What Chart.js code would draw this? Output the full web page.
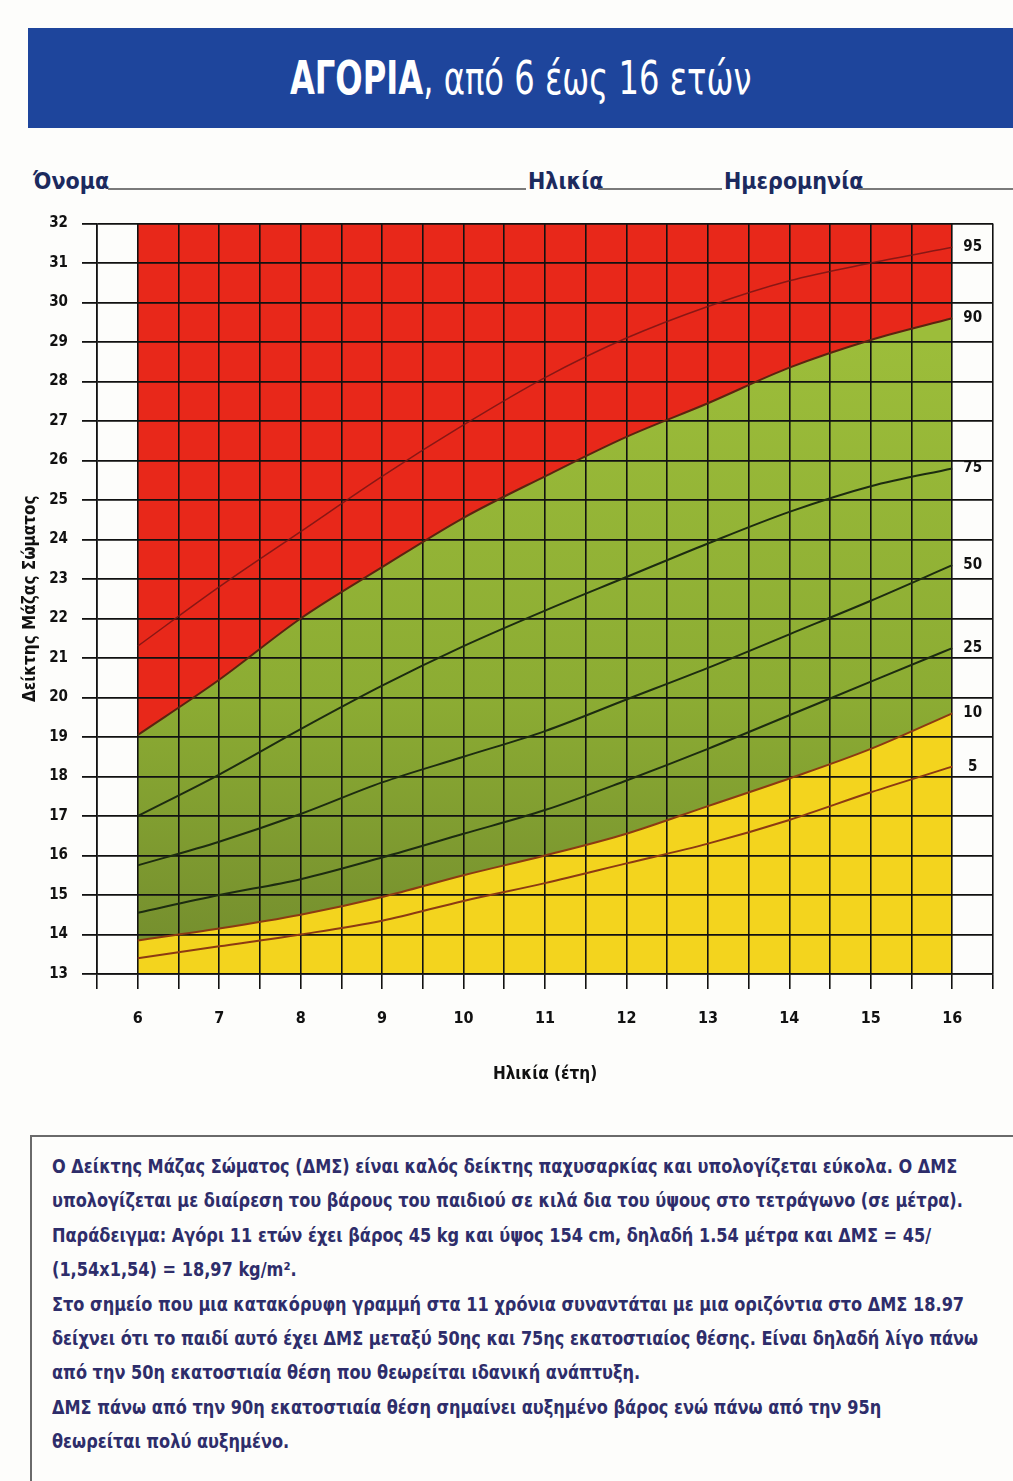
<!DOCTYPE html>
<html>
<head>
<meta charset="utf-8">
<script src="https://cdn.jsdelivr.net/npm/chart.js@4/dist/chart.umd.min.js"></script>
<style>
  html, body { margin: 0; padding: 0; background: #fdfdfb; }
  body { width: 1013px; height: 1481px; position: relative; overflow: hidden;
         font-family: "DejaVu Sans Condensed", "DejaVu Sans", sans-serif; }
  #banner { position: absolute; left: 28px; top: 28px; width: 985px; height: 100px;
            background: #1e459c; color: #fff; display: flex; align-items: center; justify-content: center;
            font-size: 46px; font-family: "DejaVu Sans", sans-serif; }
  #banner span { display: inline-block; transform: scaleX(0.70); white-space: nowrap; }
  .lbl { position: absolute; top: 166px; font-size: 23px; font-weight: bold; color: #1c2a5e; line-height: 30px; }
  .rule { position: absolute; top: 188px; height: 2px; background: #7a7a7a; }
  #chart { position: absolute; left: 0; top: 200px; }
  #note { position: absolute; left: 30px; top: 1135px; right: 0; bottom: 0;
          border-top: 2px solid #6a6a6a; border-left: 2px solid #6a6a6a;
          padding: 12px 0 0 20px; color: #2e2d6a; font-weight: bold; font-size: 19px; line-height: 34.4px; }
  #note div { white-space: nowrap; transform: scaleX(0.945); transform-origin: left center; }
</style>
</head>
<body>
<div id="banner"><span><b>ΑΓΟΡΙΑ</b>, από 6 έως 16 ετών</span></div>

<div class="lbl" style="left:33px">Όνομα</div>
<div class="rule" style="left:108px;width:418px"></div>
<div class="lbl" style="left:528px">Ηλικία</div>
<div class="rule" style="left:598px;width:124px"></div>
<div class="lbl" style="left:724px">Ημερομηνία</div>
<div class="rule" style="left:858px;width:155px"></div>

<canvas id="chart" width="1013" height="900"></canvas>

<div id="note">
  <div>Ο Δείκτης Μάζας Σώματος (ΔΜΣ) είναι καλός δείκτης παχυσαρκίας και υπολογίζεται εύκολα. Ο ΔΜΣ</div>
  <div>υπολογίζεται με διαίρεση του βάρους του παιδιού σε κιλά δια του ύψους στο τετράγωνο (σε μέτρα).</div>
  <div>Παράδειγμα: Αγόρι 11 ετών έχει βάρος 45 kg και ύψος 154 cm, δηλαδή 1.54 μέτρα και ΔΜΣ = 45/</div>
  <div>(1,54x1,54) = 18,97 kg/m².</div>
  <div>Στο σημείο που μια κατακόρυφη γραμμή στα 11 χρόνια συναντάται με μια οριζόντια στο ΔΜΣ 18.97</div>
  <div>δείχνει ότι το παιδί αυτό έχει ΔΜΣ μεταξύ 50ης και 75ης εκατοστιαίος θέσης. Είναι δηλαδή λίγο πάνω</div>
  <div>από την 50η εκατοστιαία θέση που θεωρείται ιδανική ανάπτυξη.</div>
  <div>ΔΜΣ πάνω από την 90η εκατοστιαία θέση σημαίνει αυξημένο βάρος ενώ πάνω από την 95η</div>
  <div>θεωρείται πολύ αυξημένο.</div>
</div>

<script>
// ages in years, BMI percentiles
const ages = [6, 7, 8, 9, 10, 11, 12, 13, 14, 15, 16]
const p95 = [21.3, 22.8, 24.2, 25.6, 26.9, 28.1, 29.1, 29.9, 30.55, 31.0, 31.4]
const p90 = [19.05, 20.45, 22.0, 23.3, 24.55, 25.6, 26.6, 27.45, 28.35, 29.05, 29.6]
const p75 = [17.0, 18.05, 19.2, 20.3, 21.3, 22.2, 23.05, 23.9, 24.7, 25.35, 25.8]
const p50 = [15.75, 16.35, 17.05, 17.85, 18.5, 19.15, 19.95, 20.75, 21.6, 22.45, 23.35]
const p25 = [14.55, 15.0, 15.4, 15.95, 16.55, 17.15, 17.9, 18.7, 19.55, 20.4, 21.25]
const p10 = [13.85, 14.15, 14.5, 14.95, 15.5, 16.0, 16.55, 17.25, 17.95, 18.7, 19.6]
const p5 = [13.4, 13.7, 14.0, 14.35, 14.85, 15.3, 15.8, 16.3, 16.9, 17.6, 18.25]

const FONT = '"DejaVu Sans Condensed", "DejaVu Sans", sans-serif'

const pts = arr => ages.map((a, i) => ({x: a, y: arr[i]}))

const greenFill = ctx => {
    const {chart} = ctx
    const area = chart.chartArea
    if (!area) return '#8aaa35'
    const y = chart.scales.y
    const g = chart.ctx.createLinearGradient(0, y.getPixelForValue(29), 0, y.getPixelForValue(14))
    g.addColorStop(0, '#9cbd3a')
    g.addColorStop(0.6, '#8cac33')
    g.addColorStop(1, '#76902e')
    return g
}

const line = (label, arr, color, width, extra) => Object.assign({
    label: label,
    data: pts(arr),
    borderColor: color,
    borderWidth: width,
    pointRadius: 0,
    cubicInterpolationMode: 'monotone',
    fill: false
}, extra || {})

// percentile numbers in the white column right of the curves
const endLabels = {
    id: 'endLabels',
    afterDatasetsDraw(chart) {
        const {ctx, scales: {x, y}} = chart
        ctx.save()
        ctx.font = 'bold 15px ' + FONT
        ctx.fillStyle = '#111'
        ctx.textAlign = 'center'
        ctx.textBaseline = 'middle'
        chart.data.datasets.forEach(ds => {
            if (!ds.tag) return
            const last = ds.data[ds.data.length - 1]
            ctx.fillText(ds.tag, x.getPixelForValue(16.25), y.getPixelForValue(last.y))
        })
        ctx.restore()
    }
}

new Chart(document.getElementById('chart'), {
    type: 'line',
    data: {
        datasets: [
            line('5', p5, '#8c3a12', 2, {tag: '5'}),
            line('10', p10, '#8c3a12', 2, {tag: '10', fill: 'start', backgroundColor: '#f3d41e'}),
            line('25', p25, '#1d2c10', 2, {tag: '25'}),
            line('50', p50, '#1d2c10', 2, {tag: '50'}),
            line('75', p75, '#1d2c10', 2, {tag: '75'}),
            line('90', p90, '#5b2410', 2, {tag: '90', fill: 'end', backgroundColor: '#e8281a'}),
            line('95', p95, 'rgba(120,20,20,0.85)', 1.5, {tag: '95'}),
            line('band', p90, 'transparent', 0, {fill: 'start', backgroundColor: greenFill})
        ]
    },
    options: {
        responsive: false,
        animation: false,
        layout: {padding: {top: 23.5, right: 7, left: 0, bottom: 0}},
        plugins: {
            legend: {display: false},
            tooltip: {enabled: false},
            filler: {drawTime: 'beforeDraw'}
        },
        scales: {
            x: {
                type: 'linear',
                min: 5.5,
                max: 16.5,
                afterFit: s => { s.height = 126 },
                grid: {color: '#111', lineWidth: 1.6, tickLength: 15, drawTicks: true},
                border: {color: '#111', width: 1.6},
                ticks: {
                    stepSize: 0.5,
                    autoSkip: false,
                    maxRotation: 0,
                    padding: 20,
                    color: '#111',
                    font: {family: FONT, size: 16, weight: 'bold'},
                    callback: v => ages.includes(v) ? String(v) : ''
                },
                title: {
                    display: true,
                    text: 'Ηλικία (έτη)',
                    color: '#111',
                    font: {family: FONT, size: 17, weight: 'bold'},
                    padding: {top: 0, bottom: 15}
                }
            },
            y: {
                min: 13,
                max: 32,
                afterFit: s => { s.width = 97 },
                grid: {color: '#111', lineWidth: 1.8, tickLength: 15, drawTicks: true},
                border: {color: '#111', width: 1.6},
                ticks: {
                    stepSize: 1,
                    padding: 14,
                    color: '#111',
                    font: {family: FONT, size: 15, weight: 'bold'}
                },
                title: {
                    display: true,
                    text: 'Δείκτης Μάζας Σώματος',
                    color: '#111',
                    font: {family: FONT, size: 17, weight: 'bold'},
                    padding: {top: 20, bottom: 0}
                }
            }
        }
    },
    plugins: [endLabels]
})
</script>
</body>
</html>
